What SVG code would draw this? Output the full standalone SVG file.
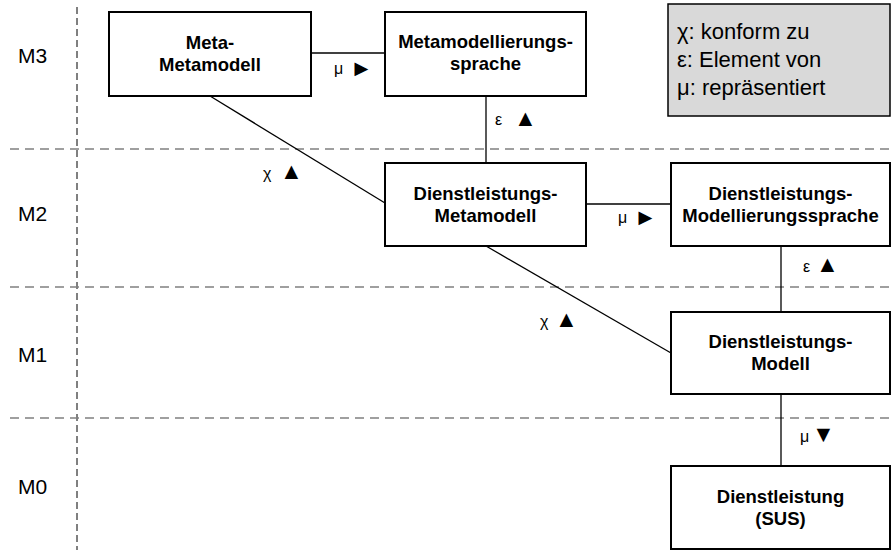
<svg xmlns="http://www.w3.org/2000/svg" width="892" height="553" viewBox="0 0 892 553">
<style>
.bg{fill:#ffffff}
.box{fill:#ffffff;stroke:#000000;stroke-width:2}
.legend{fill:#d9d9d9;stroke:#000000;stroke-width:1.5}
.hdash{stroke:#808080;stroke-width:1.3;stroke-dasharray:9 6;fill:none}
.vdash{stroke:#000000;stroke-width:1;stroke-dasharray:7 4;fill:none}
.conn{stroke:#000000;stroke-width:1.3;fill:none}
.nt{font-family:"Liberation Sans",Arial,sans-serif;font-weight:bold;font-size:18.5px;text-anchor:middle;fill:#000}
.lvl{font-family:"Liberation Sans",Arial,sans-serif;font-size:21px;fill:#000}
.lg{font-family:"Liberation Sans",Arial,sans-serif;font-size:22px;fill:#000}
.lb{font-family:"Liberation Sans",Arial,sans-serif;font-size:16px;fill:#000}
.tri{font-family:"Liberation Sans","DejaVu Sans",sans-serif;font-size:23px;fill:#000}
</style>
<rect class="bg" x="0" y="0" width="892" height="553"/>
<g id="grid">
<line class="vdash" x1="77" y1="7" x2="77" y2="550"/>
<line class="hdash" x1="10" y1="149" x2="892" y2="149"/>
<line class="hdash" x1="10" y1="287" x2="892" y2="287"/>
<line class="hdash" x1="10" y1="418" x2="892" y2="418"/>
<text class="lvl" x="18" y="63">M3</text>
<text class="lvl" x="18" y="221">M2</text>
<text class="lvl" x="18" y="362">M1</text>
<text class="lvl" x="18" y="494">M0</text>
</g>
<g id="connectors">
<line class="conn" x1="311" y1="53" x2="385" y2="53"/>
<line class="conn" x1="486" y1="96" x2="486" y2="163"/>
<line class="conn" x1="210" y1="96" x2="385" y2="203"/>
<line class="conn" x1="586" y1="204" x2="671" y2="204"/>
<line class="conn" x1="781" y1="246" x2="781" y2="312"/>
<line class="conn" x1="486" y1="246" x2="671" y2="353"/>
<line class="conn" x1="781" y1="394" x2="781" y2="466"/>
<text class="lb" x="334" y="74">μ</text><text class="tri" x="350" y="76">►</text>
<text class="lb" x="495" y="125">ε</text><text class="tri" x="514" y="126">▲</text>
<text class="lb" x="263" y="179">χ</text><text class="tri" x="280" y="179">▲</text>
<text class="lb" x="618" y="223">μ</text><text class="tri" x="634" y="225">►</text>
<text class="lb" x="803" y="272">ε</text><text class="tri" x="816" y="272">▲</text>
<text class="lb" x="540" y="327">χ</text><text class="tri" x="555" y="327">▲</text>
<text class="lb" x="800" y="442">μ</text><text class="tri" x="812" y="442">▼</text>
</g>
<g id="meta-metamodell">
<rect class="box" x="109" y="12" width="202" height="84"/>
<text class="nt" x="210" y="49">Meta-</text>
<text class="nt" x="210" y="71">Metamodell</text>
</g>
<g id="metamodellierungssprache">
<rect class="box" x="385" y="12" width="201" height="84"/>
<text class="nt" x="485.5" y="48">Metamodellierungs-</text>
<text class="nt" x="485.5" y="70">sprache</text>
</g>
<g id="legende">
<rect class="legend" x="668" y="4" width="222" height="112"/>
<text class="lg" x="677" y="39">χ: konform zu</text>
<text class="lg" x="677" y="67">ε: Element von</text>
<text class="lg" x="677" y="95">μ: repräsentiert</text>
</g>
<g id="dienstleistungs-metamodell">
<rect class="box" x="385" y="163" width="201" height="83"/>
<text class="nt" x="485.5" y="199.5">Dienstleistungs-</text>
<text class="nt" x="485.5" y="221.5">Metamodell</text>
</g>
<g id="dienstleistungs-modellierungssprache">
<rect class="box" x="671" y="163" width="219" height="83"/>
<text class="nt" x="780.5" y="199.5">Dienstleistungs-</text>
<text class="nt" x="780.5" y="221.5">Modellierungssprache</text>
</g>
<g id="dienstleistungs-modell">
<rect class="box" x="671" y="312" width="219" height="82"/>
<text class="nt" x="780.5" y="347.5">Dienstleistungs-</text>
<text class="nt" x="780.5" y="369.5">Modell</text>
</g>
<g id="dienstleistung-sus">
<rect class="box" x="671" y="466" width="219" height="83"/>
<text class="nt" x="780.5" y="502.5">Dienstleistung</text>
<text class="nt" x="780.5" y="524.5">(SUS)</text>
</g>
</svg>
